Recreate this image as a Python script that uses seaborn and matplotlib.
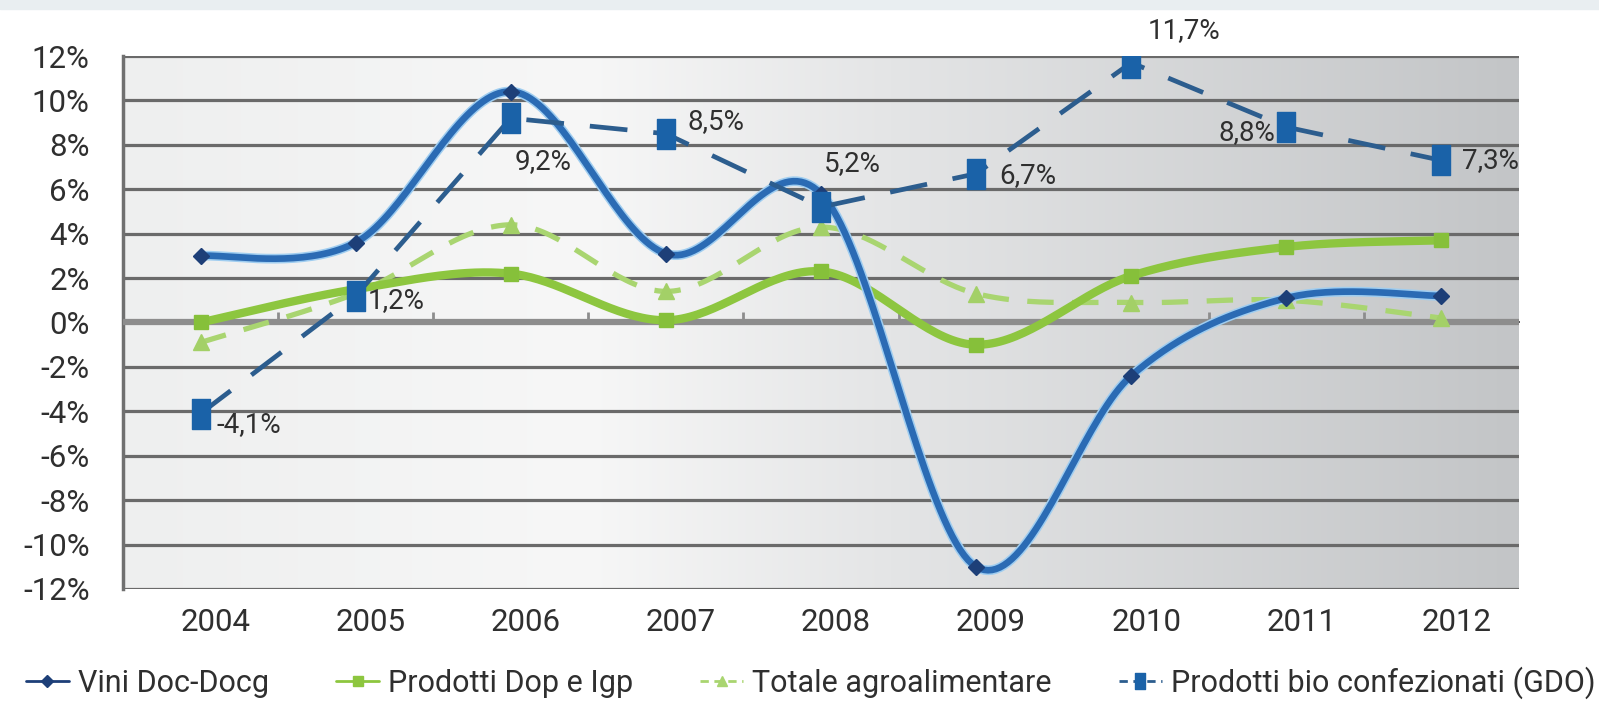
import numpy as np
import matplotlib
matplotlib.use("Agg")
import matplotlib.pyplot as plt
import matplotlib.transforms as mtransforms
from matplotlib.lines import Line2D
from matplotlib.path import Path
from matplotlib.patches import Rectangle
from matplotlib.colors import LinearSegmentedColormap
import seaborn as sns

# ---------------- data ----------------
years = ["2004", "2005", "2006", "2007", "2008", "2009", "2010", "2011", "2012"]
vini = [3.0, 3.6, 10.4, 3.1, 5.8, -11.0, -2.4, 1.1, 1.2]
dop_igp = [0.0, 1.5, 2.2, 0.1, 2.3, -1.0, 2.1, 3.4, 3.7]
totale = [-0.9, 1.3, 4.4, 1.4, 4.3, 1.3, 0.9, 1.0, 0.2]
bio = [-4.1, 1.2, 9.2, 8.5, 5.2, 6.7, 11.7, 8.8, 7.3]
bio_labels = ["-4,1%", "1,2%", "9,2%", "8,5%", "5,2%", "6,7%", "11,7%", "8,8%", "7,3%"]
series_names = ["Vini Doc-Docg", "Prodotti Dop e Igp", "Totale agroalimentare",
                "Prodotti bio confezionati (GDO)"]
yticks = [-12, -10, -8, -6, -4, -2, 0, 2, 4, 6, 8, 10, 12]
ytick_labels = [f"{v}%" for v in yticks]

# ---------------- style ----------------
sns.set_theme(style="white")
plt.rcParams["font.family"] = ["Roboto", "DejaVu Sans"]
TXT = "#2f2f2f"

def smooth(xs, ys, n=40):
    """Excel-like smoothed curve (Catmull-Rom / Bezier) through the points."""
    P = np.column_stack([xs, ys]).astype(float)
    P = np.vstack([P[0], P, P[-1]])
    out = []
    for i in range(1, len(P) - 2):
        p0, p1, p2, p3 = P[i - 1], P[i], P[i + 1], P[i + 2]
        c1 = p1 + (p2 - p0) / 6.0
        c2 = p2 - (p3 - p1) / 6.0
        t = np.linspace(0, 1, n)[:, None]
        seg = ((1 - t) ** 3) * p1 + 3 * ((1 - t) ** 2) * t * c1 + 3 * (1 - t) * t ** 2 * c2 + t ** 3 * p2
        out.append(seg if i == 1 else seg[1:])
    arr = np.vstack(out)
    return arr[:, 0], arr[:, 1]

fig = plt.figure(figsize=(15.99, 7.11), dpi=100)
fig.patch.set_facecolor("white")
fig.patches.append(Rectangle((0, 1 - 9 / 711), 1, 9 / 711, transform=fig.transFigure,
                             color="#e9eef1", zorder=0))
ax = fig.add_axes([123 / 1599, 1 - 589 / 711, (1519 - 123) / 1599, (589 - 56) / 711])

# gradient background
cmap = LinearSegmentedColormap.from_list(
    "bg", [(0.0, "#eeefef"), (0.33, "#f7f7f7"), (0.55, "#e4e5e6"), (1.0, "#c3c5c7")])
grad = np.linspace(0, 1, 512)[None, :]
ax.imshow(grad, extent=(0, 1, 0, 1), transform=ax.transAxes, aspect="auto",
          cmap=cmap, zorder=0, interpolation="bicubic")

x = np.arange(len(years))

# Vini Doc-Docg (smoothed, solid blue with light halo)
sx, sy = smooth(x, vini)
sns.lineplot(x=sx, y=sy, ax=ax, sort=False, estimator=None, color="#9fcdf0", lw=7, zorder=4)
sns.lineplot(x=sx, y=sy, ax=ax, sort=False, estimator=None, color="#2b6bb4", lw=4.8, zorder=5)
ax.plot(x, vini, ls="none", marker="D", ms=8, color="#1d3f78", zorder=6)

# Prodotti Dop e Igp (smoothed solid green)
sx, sy = smooth(x, dop_igp)
sns.lineplot(x=sx, y=sy, ax=ax, sort=False, estimator=None, color="#8dc63f", lw=6, zorder=3)
ax.plot(x, dop_igp, ls="none", marker="s", ms=10, color="#86c03a", zorder=3)

# Totale agroalimentare (smoothed dashed light green)
sx, sy = smooth(x, totale)
ax.plot(sx, sy, color="#a9d570", lw=3.8, ls=(0, (5, 3.5)), zorder=2)
ax.plot(x, totale, ls="none", marker="^", ms=11, color="#a3d067", zorder=2)

# Prodotti bio confezionati (straight dashed dark blue, tall square markers)
rect = Path([(-0.3, -0.5), (0.3, -0.5), (0.3, 0.5), (-0.3, 0.5), (-0.3, -0.5)],
            [Path.MOVETO, Path.LINETO, Path.LINETO, Path.LINETO, Path.CLOSEPOLY])
sns.lineplot(x=x, y=bio, ax=ax, sort=False, estimator=None, color="#2c5d8e", lw=3.4,
             zorder=7)
ax.lines[-1].set_linestyle((0, (8, 5.5)))
ax.plot(x, bio, ls="none", marker=rect, ms=22, color="#1a62a8", zorder=8)

# data labels for bio
offsets = [(16, -11, "left"), (12, -5, "left"), (4, -43, "left"), (22, 12, "left"),
           (3, 43, "left"), (23, -2, "left"), (16, 32, "left"), (-11, -5, "right"),
           (21, 0, "left")]
for xi, v, lab, (dx, dy, ha) in zip(x, bio, bio_labels, offsets):
    ax.annotate(lab, (xi, v), xytext=(dx * 0.72, dy * 0.72), textcoords="offset points",
                ha=ha, va="center", fontsize=20, color=TXT, zorder=9,
                annotation_clip=False)

# axes styling
ax.set_xlim(-0.5, len(years) - 0.5)
ax.set_ylim(-12, 12)
ax.set_yticks(yticks)
ax.set_yticklabels(ytick_labels)
ax.set_xticks(x)
ax.set_xticklabels(years)
ax.yaxis.grid(True, color="#6a6a6a", lw=2.3)
ax.xaxis.grid(False)
for gl in ax.get_ygridlines():
    gl.set_zorder(1)
ax.axhline(0, color="#8d8d8d", lw=4.5, zorder=1.5)
for side in ["top", "right", "bottom"]:
    ax.spines[side].set_visible(False)
ax.spines["left"].set_color("#707070")
ax.spines["left"].set_linewidth(2.5)
ax.spines["left"].set_zorder(1)
ax.tick_params(axis="y", length=0, pad=24, labelsize=22.5, labelcolor=TXT)
ax.tick_params(axis="x", length=0, pad=14, labelsize=22.5, labelcolor=TXT)
shift = mtransforms.ScaledTranslation(15 / 100, 0, fig.dpi_scale_trans)
for t in ax.get_xticklabels():
    t.set_transform(t.get_transform() + shift)
ax.set_xlabel("")
ax.set_ylabel("")

# small tick marks on the zero line at category boundaries
sec = ax.secondary_xaxis(0.5)
sec.set_xticks(np.arange(len(years) - 1) + 0.5)
sec.set_xticklabels([])
sec.tick_params(length=7, width=2, color="#8d8d8d", direction="out")
sec.spines["bottom"].set_visible(False)

# legend
handles = [
    Line2D([], [], color="#1d3f78", lw=2, marker="D", ms=6),
    Line2D([], [], color="#8dc63f", lw=2, marker="s", ms=7),
    Line2D([], [], color="#a9d570", lw=2, ls=(0, (3, 2)), marker="^", ms=7),
    Line2D([], [], color="#2c5d8e", lw=2, ls=(0, (3, 2)), marker=rect, ms=12, mfc="#1a62a8",
           mec="#1a62a8"),
]
leg = fig.legend(handles, series_names, loc="center", bbox_to_anchor=(0.507, 1 - 683 / 711),
                 ncol=4, frameon=False, fontsize=22, handlelength=1.4, handletextpad=0.3,
                 columnspacing=2.2, labelcolor=TXT)

fig.savefig("out.png", dpi=100)
